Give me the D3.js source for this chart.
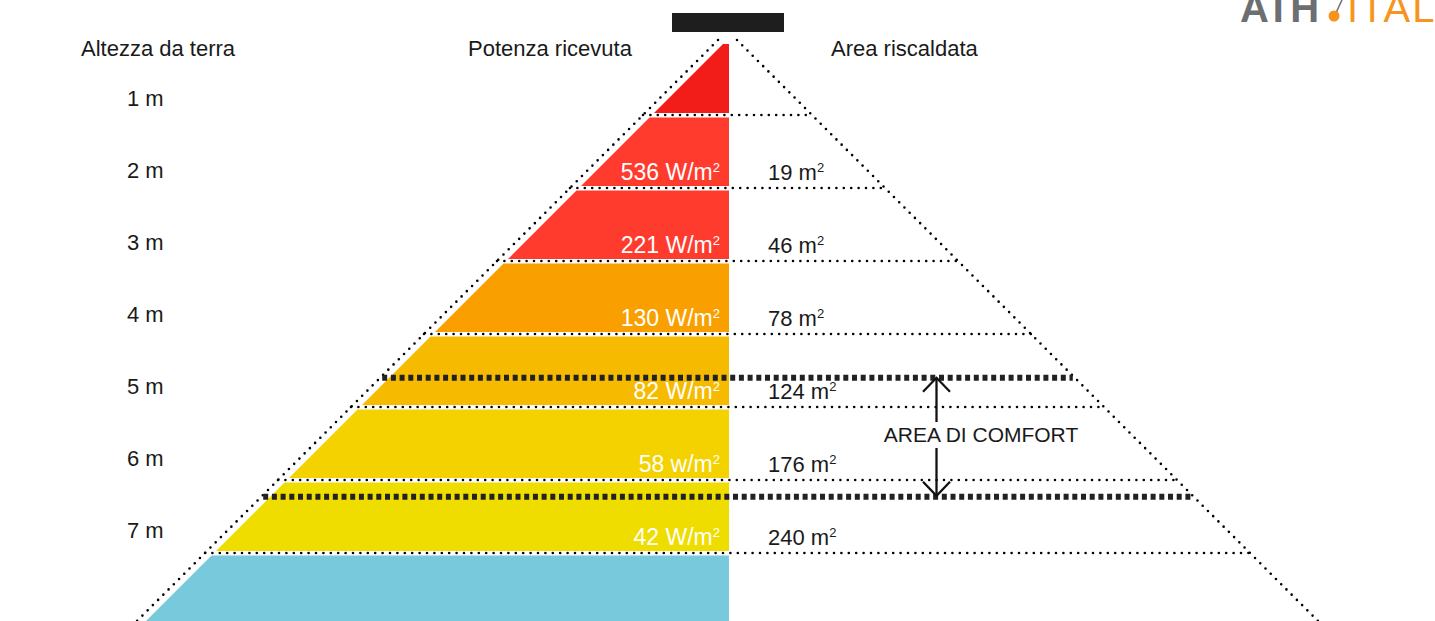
<!DOCTYPE html>
<html>
<head>
<meta charset="utf-8">
<script src="https://cdn.jsdelivr.net/npm/d3@7"></script>
<style>
    html, body { margin: 0; padding: 0; background: #fff; overflow: hidden; }
    svg text { font-family: "Liberation Sans", Arial, Helvetica, sans-serif; }
</style>
</head>
<body>
<svg id="cone" width="1435" height="621"></svg>
<script>
// altezze (m) dei confini delle fasce
var heights = [1, 2, 3, 4, 5, 6, 7];
var rowLabels = ['1 m', '2 m', '3 m', '4 m', '5 m', '6 m', '7 m'];
var powerValues = [null, 536, 221, 130, 82, 58, 42];
var powerUnits = [null, 'W/m', 'W/m', 'W/m', 'W/m', 'w/m', 'W/m'];
var areaValues = [null, 19, 46, 78, 124, 176, 240];
var bandColors = ['#f21d18', '#ff3b2e', '#ff3b2e', '#fa9f00', '#f6bb00', '#f4d200', '#f0dd00', '#79c9dd'];
var comfortHeights = [4.6, 6.23];
var headers = ['Altezza da terra', 'Potenza ricevuta', 'Area riscaldata'];

var svg = d3.select('#cone');

var y = d3.scaleLinear().domain([0, 7]).range([42, 553]);

// cono a 45 gradi che parte dal riscaldatore
var cx = 727.5,
    apexY = 30.5,
    fillRight = 729;
var coneLeft = function(yy) { return cx - (yy - apexY); };
var coneRight = function(yy) { return cx + (yy - apexY); };

// riscaldatore
svg.append('rect')
    .attr('x', 672).attr('y', 13)
    .attr('width', 112).attr('height', 19)
    .attr('fill', '#1e1e1e');

// fasce colorate
var bands = bandColors.map(function(c, i) {
    return {
        color: c,
        top: y(i) + (i === 0 ? 2 : 2.5),
        bottom: i === bandColors.length - 1 ? 640 : y(i + 1) - 2
    };
});

svg.selectAll('path.band')
    .data(bands)
    .enter()
    .append('path')
    .attr('class', 'band')
    .attr('fill', function(d) { return d.color; })
    .attr('d', function(d) {
        var lt = Math.min(fillRight, coneLeft(d.top) + 9),
            lb = Math.min(fillRight, coneLeft(d.bottom) + 9);
        return d3.line()([[lt, d.top], [fillRight, d.top], [fillRight, d.bottom], [lb, d.bottom]]) + 'Z';
    });

// linee punteggiate del cono
var dotted = function(sel) {
    return sel.attr('stroke', '#000')
        .attr('stroke-width', 2.6)
        .attr('stroke-linecap', 'round')
        .attr('stroke-dasharray', '0 7.4')
        .attr('fill', 'none');
};

[[coneLeft(40), 40, coneLeft(650), 650], [coneRight(40), 40, coneRight(650), 650]].forEach(function(p) {
    svg.append('line')
        .attr('x1', p[0]).attr('y1', p[1])
        .attr('x2', p[2]).attr('y2', p[3])
        .call(dotted);
});

svg.selectAll('line.level')
    .data(heights)
    .enter()
    .append('line')
    .attr('class', 'level')
    .attr('x1', function(d) { return coneLeft(y(d)); })
    .attr('x2', function(d) { return coneRight(y(d)); })
    .attr('y1', function(d) { return y(d); })
    .attr('y2', function(d) { return y(d); })
    .call(dotted);

// area di comfort
svg.selectAll('line.comfort')
    .data(comfortHeights)
    .enter()
    .append('line')
    .attr('class', 'comfort')
    .attr('x1', function(d) { return coneLeft(y(d)) + 2; })
    .attr('x2', function(d) { return coneRight(y(d)) - 2; })
    .attr('y1', function(d) { return y(d); })
    .attr('y2', function(d) { return y(d); })
    .attr('stroke', '#222')
    .attr('stroke-width', 6)
    .attr('stroke-dasharray', '5 3.7');

var ax = 936.5,
    yTop = y(comfortHeights[0]),
    yBot = y(comfortHeights[1]) - 1;
var arrow = svg.append('g')
    .attr('stroke', '#111')
    .attr('stroke-width', 2.3)
    .attr('fill', 'none');
arrow.append('path').attr('d', d3.line()([[ax, yTop], [ax, 422]]));
arrow.append('path').attr('d', d3.line()([[ax - 13.5, yTop + 14], [ax, yTop], [ax + 13.5, yTop + 14]]));
arrow.append('path').attr('d', d3.line()([[ax, 448], [ax, yBot]]));
arrow.append('path').attr('d', d3.line()([[ax - 13.5, yBot - 14], [ax, yBot], [ax + 13.5, yBot - 14]]));

svg.append('text')
    .attr('x', 981).attr('y', 442)
    .attr('text-anchor', 'middle')
    .style('font-size', '21px')
    .attr('fill', '#1a1a1a')
    .text('AREA DI COMFORT');

// intestazioni
svg.selectAll('text.header')
    .data(headers)
    .enter()
    .append('text')
    .attr('class', 'header')
    .attr('x', function(d, i) { return [81, 468, 831][i]; })
    .attr('y', 56)
    .style('font-size', '22px')
    .attr('fill', '#1a1a1a')
    .text(function(d) { return d; });

// etichette altezza
svg.selectAll('text.row')
    .data(heights)
    .enter()
    .append('text')
    .attr('class', 'row')
    .attr('x', 127)
    .attr('y', function(d) { return y(d) - 8 - d; })
    .style('font-size', '22px')
    .attr('fill', '#1a1a1a')
    .text(function(d, i) { return rowLabels[i]; });

var withSup = function(sel, color) {
    sel.append('tspan').text(function(d) { return d.label; });
    sel.append('tspan')
        .attr('dy', -8)
        .style('font-size', '13px')
        .text('2');
    sel.attr('fill', color);
};

var powerData = heights.map(function(h, i) {
    return { h: h, label: powerValues[i] === null ? null : powerValues[i] + ' ' + powerUnits[i] };
}).filter(function(d) { return d.label; });

svg.selectAll('text.power')
    .data(powerData)
    .enter()
    .append('text')
    .attr('class', 'power')
    .attr('x', 720)
    .attr('y', function(d) { return y(d.h) - 8; })
    .attr('text-anchor', 'end')
    .style('font-size', '23px')
    .call(withSup, '#fff');

var areaData = heights.map(function(h, i) {
    return { h: h, label: areaValues[i] === null ? null : areaValues[i] + ' m' };
}).filter(function(d) { return d.label; });

svg.selectAll('text.area')
    .data(areaData)
    .enter()
    .append('text')
    .attr('class', 'area')
    .attr('x', 768)
    .attr('y', function(d) { return y(d.h) - 8; })
    .style('font-size', '22px')
    .call(withSup, '#1a1a1a');

// logo in alto a destra (tagliato come nell'originale)
var logo = svg.append('g');
logo.append('text')
    .attr('x', 1240).attr('y', 22)
    .style('font-size', '40px')
    .style('font-weight', 'bold')
    .attr('fill', '#6d6e71')
    .text('ATH');
logo.append('line')
    .attr('x1', 1335).attr('y1', 15)
    .attr('x2', 1342).attr('y2', 0)
    .attr('stroke', '#6d6e71')
    .attr('stroke-width', 1.5);
logo.append('circle')
    .attr('cx', 1334).attr('cy', 16).attr('r', 5.5)
    .attr('fill', '#f7941d');
logo.append('text')
    .attr('x', 1347).attr('y', 22)
    .style('font-size', '40px')
    .style('letter-spacing', '2px')
    .attr('fill', '#f7941d')
    .text('ITALIA');
</script>
</body>
</html>
